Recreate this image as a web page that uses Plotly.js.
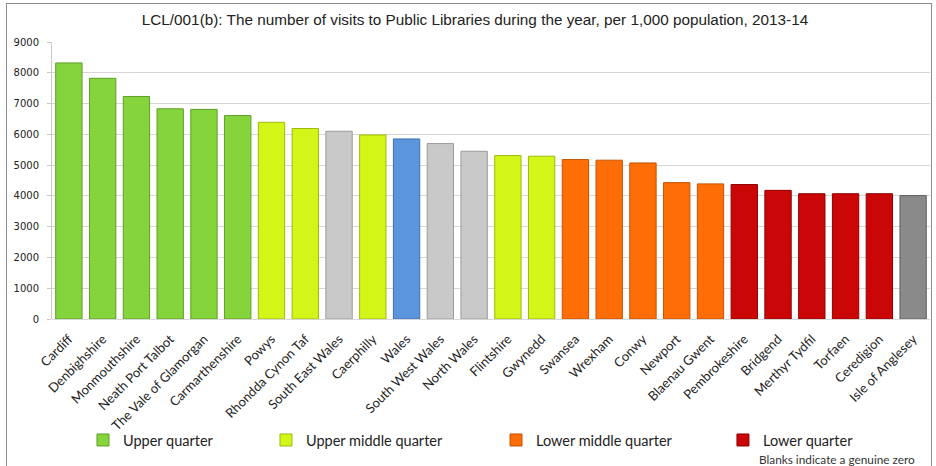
<!DOCTYPE html>
<html>
<head>
<meta charset="utf-8">
<script src="https://cdn.plot.ly/plotly-3.0.1.min.js"></script>
<style>
  html, body { margin: 0; padding: 0; background: #ffffff; }
  #wrap { position: relative; width: 936px; height: 466px; overflow: hidden; }
  #chart { width: 936px; height: 466px; }
  #frame { position: absolute; left: 6px; top: 3px; width: 926px; height: 480px;
           border: 1.5px solid #8c8c8c; pointer-events: none; box-sizing: border-box; }
</style>
</head>
<body>
<div id="wrap">
  <div id="chart"></div>
  <div id="frame"></div>
</div>
<script>
// ---- data ----
const categories = ["Cardiff", "Denbighshire", "Monmouthshire", "Neath Port Talbot",
  "The Vale of Glamorgan", "Carmarthenshire", "Powys", "Rhondda Cynon Taf",
  "South East Wales", "Caerphilly", "Wales", "South West Wales", "North Wales",
  "Flintshire", "Gwynedd", "Swansea", "Wrexham", "Conwy", "Newport",
  "Blaenau Gwent", "Pembrokeshire", "Bridgend", "Merthyr Tydfil", "Torfaen",
  "Ceredigion", "Isle of Anglesey"];
const visits = [8320, 7820, 7230, 6830, 6810, 6610, 6390, 6190, 6100, 5980,
  5850, 5700, 5450, 5310, 5290, 5180, 5160, 5070, 4430, 4390, 4370, 4180,
  4070, 4070, 4070, 4010];
const groups = ["upper", "upper", "upper", "upper", "upper", "upper", "uppermid",
  "uppermid", "region", "uppermid", "wales", "region", "region", "uppermid",
  "uppermid", "lowermid", "lowermid", "lowermid", "lowermid", "lowermid",
  "lower", "lower", "lower", "lower", "lower", "nodata"];
const groupKeys   = ["upper", "uppermid", "lowermid", "lower", "region", "wales", "nodata"];
const groupNames  = ["Upper quarter", "Upper middle quarter", "Lower middle quarter",
  "Lower quarter", "Region", "Wales", "No quartile"];
const titleText = "LCL/001(b): The number of visits to Public Libraries during the year, per 1,000 population, 2013-14";
const noteText = "Blanks indicate a genuine zero";
const yTicks = [0, 1000, 2000, 3000, 4000, 5000, 6000, 7000, 8000, 9000];

// ---- styles ----
const fillColors = {upper: "#86d43c", uppermid: "#d4f518", lowermid: "#ff6d06",
  lower: "#cb0606", region: "#c9c9c9", wales: "#5a95dd", nodata: "#8a8a8a"};
const lineColors = {upper: "#5f9e28", uppermid: "#9fb80e", lowermid: "#c45200",
  lower: "#8f0000", region: "#9a9a9a", wales: "#3b70b0", nodata: "#606060"};
const legendSlots = {upper: "legend", uppermid: "legend2", lowermid: "legend3", lower: "legend4"};

const traces = groupKeys.map((key, gi) => {
  const xs = [], ys = [];
  categories.forEach((c, i) => { if (groups[i] === key) { xs.push(c); ys.push(visits[i]); } });
  const t = {
    type: "bar", x: xs, y: ys, name: groupNames[gi],
    marker: {color: fillColors[key], line: {color: lineColors[key], width: 1}},
    hovertemplate: "%{x}: %{y}<extra></extra>",
    showlegend: !!legendSlots[key]
  };
  if (legendSlots[key]) t.legend = legendSlots[key];
  return t;
});

const legFont = {family: "Lato, 'Open Sans', sans-serif", size: 14.5, color: "#222"};
function leg(x) {
  return {x: x, y: -0.437, xanchor: "left", yanchor: "middle", orientation: "h",
          font: legFont, bgcolor: "rgba(0,0,0,0)", borderwidth: 0};
}

const layout = {
  width: 936, height: 466,
  margin: {l: 52, r: 6, t: 42, b: 147},
  paper_bgcolor: "#ffffff", plot_bgcolor: "#ffffff",
  barmode: "overlay", bargap: 0.22,
  title: {text: titleText, x: 475 / 936, xref: "container", xanchor: "center",
          y: 1 - 20 / 466, yref: "container", yanchor: "middle",
          font: {family: "'Liberation Sans', Arial, sans-serif", size: 15.3, color: "#222"}},
  xaxis: {type: "category", categoryorder: "array", categoryarray: categories,
          tickangle: -45, showgrid: false, zeroline: false, showline: false,
          ticks: "", ticklabelstandoff: 9,
          tickfont: {family: "Lato, 'Open Sans', sans-serif", size: 13, color: "#222"}},
  yaxis: {range: [0, 9000], tickvals: yTicks, ticktext: yTicks.map(String),
          showgrid: true, gridcolor: "#d6d6d6", gridwidth: 1,
          zeroline: true, zerolinecolor: "#d6d6d6", zerolinewidth: 1,
          showline: true, linecolor: "#c8c8c8", linewidth: 1,
          ticks: "outside", ticklen: 4, tickcolor: "#c8c8c8", ticklabelstandoff: 6,
          tickfont: {family: "'DejaVu Sans', Verdana, sans-serif", size: 10, color: "#222"}},
  legend: leg(0.0353), legend2: leg(0.2437), legend3: leg(0.5057), legend4: leg(0.7642),
  annotations: [{text: noteText, xref: "paper", yref: "paper", x: 0.803, y: -0.509,
                 xanchor: "left", yanchor: "middle", showarrow: false,
                 font: {family: "Lato, 'Open Sans', sans-serif", size: 11.8, color: "#333"}}]
};

Plotly.newPlot("chart", traces, layout, {displayModeBar: false, staticPlot: true});
</script>
</body>
</html>
